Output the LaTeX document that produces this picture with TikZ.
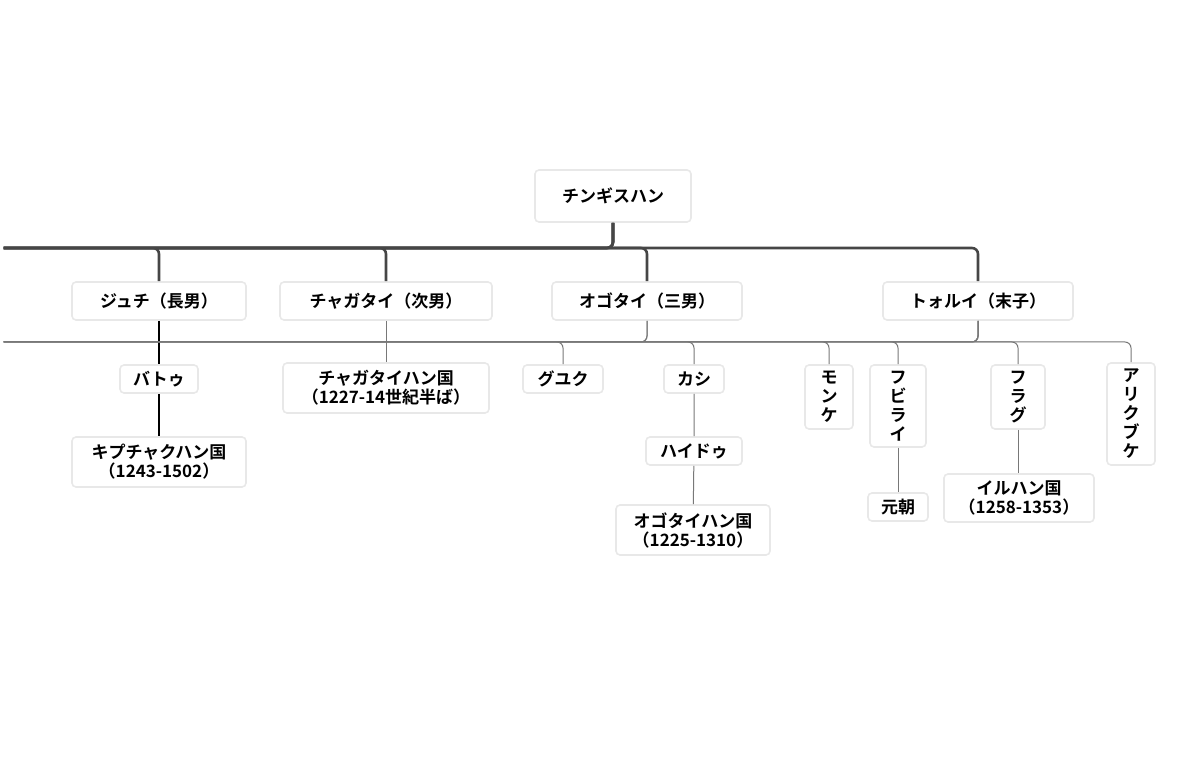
\documentclass[tikz,border=0pt]{standalone}
\usepackage{fontspec}
\setmainfont{Noto Sans CJK JP}[BoldFont={* Bold}]
\usetikzlibrary{positioning}
\definecolor{boxline}{RGB}{232,232,232}
\definecolor{thickline}{RGB}{70,70,70}
\definecolor{thinline}{RGB}{120,120,120}
\tikzset{
  person/.style={draw=boxline, fill=white, rounded corners=2pt, line width=0.8pt,
    font=\fontsize{8.5}{9.5}\selectfont\bfseries, align=center, inner sep=0pt},
  trunk/.style={draw=thickline, line width=1.3pt, rounded corners=3pt},
  twig/.style={draw=thinline, line width=0.5pt, rounded corners=3pt},
}
\begin{document}
\begin{tikzpicture}[x=0.5pt,y=-0.5pt]
\useasboundingbox (0,0) rectangle (1200,780);

% generation 1 and 2
\node[person, minimum width=78pt, minimum height=26pt] (chinggis) at (613,196) {チンギスハン};
\node[person, minimum width=87pt, minimum height=19pt] (jochi) at (159,301) {ジュチ（長男）};
\node[person, minimum width=106pt, minimum height=19pt] (chagatai) at (386,301) {チャガタイ（次男）};
\node[person, minimum width=95pt, minimum height=19pt] (ogodei) at (647,301) {オゴタイ（三男）};
\node[person, minimum width=95pt, minimum height=19pt] (tolui) at (978,301) {トォルイ（末子）};

% lines of jochi and chagatai
\node[person, minimum width=39pt, minimum height=14pt] (batu) at (159,379) {バトゥ};
\node[person, minimum width=87pt, minimum height=25pt] (kipchak) at (159,462) {キプチャクハン国\\（1243-1502）};
\node[person, minimum width=103pt, minimum height=25pt] (chagataikh) at (386,388) {チャガタイハン国\\（1227-14世紀半ば）};

% line of ogodei
\node[person, minimum width=40pt, minimum height=14pt] (guyuk) at (563,379) {グユク};
\node[person, minimum width=30pt, minimum height=14pt] (kashi) at (694,379) {カシ};
\node[person, minimum width=48pt, minimum height=14pt] (kaidu) at (694,451) {ハイドゥ};
\node[person, minimum width=77pt, minimum height=25pt] (ogodeikh) at (693,530) {オゴタイハン国\\（1225-1310）};

% line of tolui
\node[person, minimum width=24pt, minimum height=32pt] (mongke) at (829,397) {モ\\ン\\ケ};
\node[person, minimum width=28pt, minimum height=41pt] (kublai) at (898,406) {フ\\ビ\\ラ\\イ};
\node[person, minimum width=27pt, minimum height=32pt] (hulagu) at (1018,397) {フ\\ラ\\グ};
\node[person, minimum width=24pt, minimum height=51pt] (ariq) at (1131,414) {ア\\リ\\ク\\ブ\\ケ};
\node[person, minimum width=30pt, minimum height=14pt] (yuan) at (898,507) {元朝};
\node[person, minimum width=75pt, minimum height=24pt] (ilkhan) at (1019,498) {イルハン国\\（1258-1353）};

% connectors
\foreach \son in {jochi,chagatai,ogodei,tolui}
  \path[trunk] (chinggis.south) |- (0,248) -| (\son.north);
\draw[line width=1.3pt] (jochi) -- (batu) -- (kipchak);
\draw[twig] (chagatai) -- (chagataikh);
\foreach \son in {guyuk,kashi}
  \path[twig] (ogodei.south) |- (0,342) -| (\son.north);
\draw[twig] (kashi) -- (kaidu) -- (ogodeikh);
\foreach \son in {mongke,kublai,hulagu,ariq}
  \path[twig] (tolui.south) |- (0,342) -| (\son.north);
\draw[twig] (kublai) -- (yuan);
\draw[twig] (hulagu) -- (hulagu |- ilkhan.north);
\end{tikzpicture}
\end{document}
